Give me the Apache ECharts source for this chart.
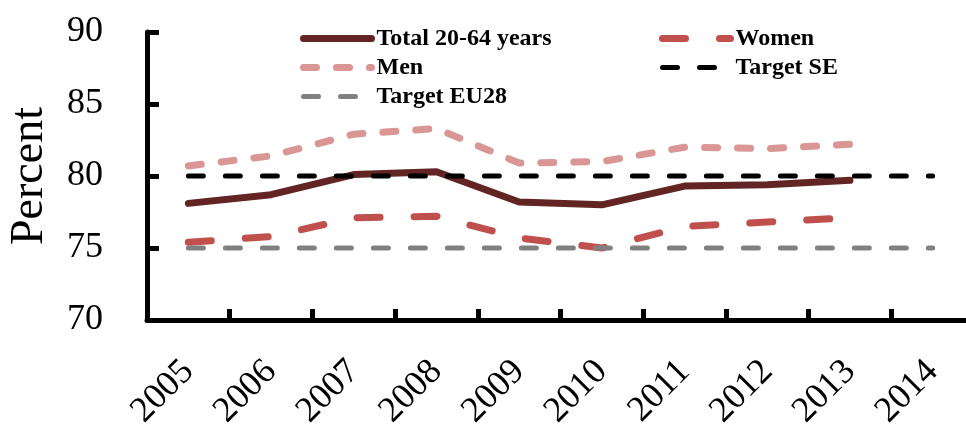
<!DOCTYPE html>
<html lang="en">
<head>
    <meta charset="UTF-8">
    <title>Employment rate 20-64</title>
    <script src="https://cdn.jsdelivr.net/npm/echarts@6/dist/echarts.min.js"></script>
    <style>
        html, body { margin: 0; padding: 0; background: #fff; }
        #chart { width: 966px; height: 437px; }
    </style>
</head>
<body>
    <div id="chart"></div>

    <script>
        var years = ['2005', '2006', '2007', '2008', '2009', '2010', '2011', '2012', '2013', '2014'];
        var total = [78.1, 78.7, 80.1, 80.3, 78.2, 78.0, 79.3, 79.4, 79.7, null];
        var women = [75.4, 75.8, 77.1, 77.2, 75.7, 75.0, 76.5, 76.8, 77.1, null];
        var men = [80.7, 81.4, 82.9, 83.3, 80.9, 81.0, 82.0, 81.9, 82.2, null];
        var targetSE = [80, 80, 80, 80, 80, 80, 80, 80, 80, 80];
        var targetEU = [75, 75, 75, 75, 75, 75, 75, 75, 75, 75];

        var font = '"Liberation Serif", "DejaVu Serif", serif';

        // line looks: colour, width, dash
        var looks = {
            'Total 20-64 years': ['#632523', 7, 'solid'],
            'Women': ['#C0504D', 7, [23, 34]],
            'Men': ['#D99694', 7, [13, 20]],
            'Target SE': ['#000000', 5, [15, 22]],
            'Target EU28': ['#808080', 5, [15, 22]]
        };

        var myChart = echarts.init(document.getElementById('chart'));

        function lineSeries(name, data) {
            var l = looks[name];
            return {
                name: name,
                type: 'line',
                data: data,
                symbol: 'none',
                lineStyle: { color: l[0], width: l[1], type: l[2], cap: 'round', join: 'round' },
                itemStyle: { color: l[0] }
            };
        }

        function legendItem(name) {
            var l = looks[name];
            return {
                name: name,
                lineStyle: { color: l[0], width: l[1], type: l[2], cap: 'round' },
                itemStyle: { opacity: 0 }
            };
        }

        function legendBlock(left, names) {
            return {
                orient: 'vertical',
                left: left,
                top: 21,
                itemWidth: 68,
                itemHeight: 14,
                itemGap: 4,
                itemStyle: { opacity: 0 },
                textStyle: {
                    fontFamily: font,
                    fontSize: 24,
                    lineHeight: 25,
                    fontWeight: 'bold',
                    color: '#000'
                },
                data: names.map(legendItem)
            };
        }

        var option = {
            animation: false,
            grid: {
                left: 147,
                top: 32,
                right: -8,
                bottom: 117,
                outerBoundsMode: 'none'
            },
            legend: [
                legendBlock(295, ['Total 20-64 years', 'Men', 'Target EU28']),
                legendBlock(654, ['Women', 'Target SE'])
            ],
            xAxis: {
                type: 'category',
                data: years,
                boundaryGap: true,
                axisLine: { show: true, lineStyle: { color: '#000', width: 5 } },
                axisTick: { show: true, inside: true, length: 11, interval: 0, alignWithLabel: false, lineStyle: { color: '#000', width: 5 } },
                axisLabel: {
                    rotate: 45,
                    interval: 0,
                    margin: 46,
                    fontFamily: font,
                    fontSize: 36,
                    color: '#000'
                }
            },
            yAxis: {
                type: 'value',
                min: 70,
                max: 90,
                interval: 5,
                name: 'Percent',
                nameLocation: 'middle',
                nameGap: 94,
                nameTextStyle: { fontFamily: font, fontSize: 46, color: '#000' },
                splitLine: { show: false },
                axisLine: { show: true, lineStyle: { color: '#000', width: 5 } },
                axisTick: { show: true, inside: true, length: 12, lineStyle: { color: '#000', width: 5 } },
                axisLabel: {
                    margin: 44,
                    fontFamily: font,
                    fontSize: 36,
                    color: '#000'
                }
            },
            series: [
                lineSeries('Total 20-64 years', total),
                lineSeries('Women', women),
                lineSeries('Men', men),
                lineSeries('Target SE', targetSE),
                lineSeries('Target EU28', targetEU)
            ]
        };

        myChart.setOption(option);
    </script>
</body>
</html>
